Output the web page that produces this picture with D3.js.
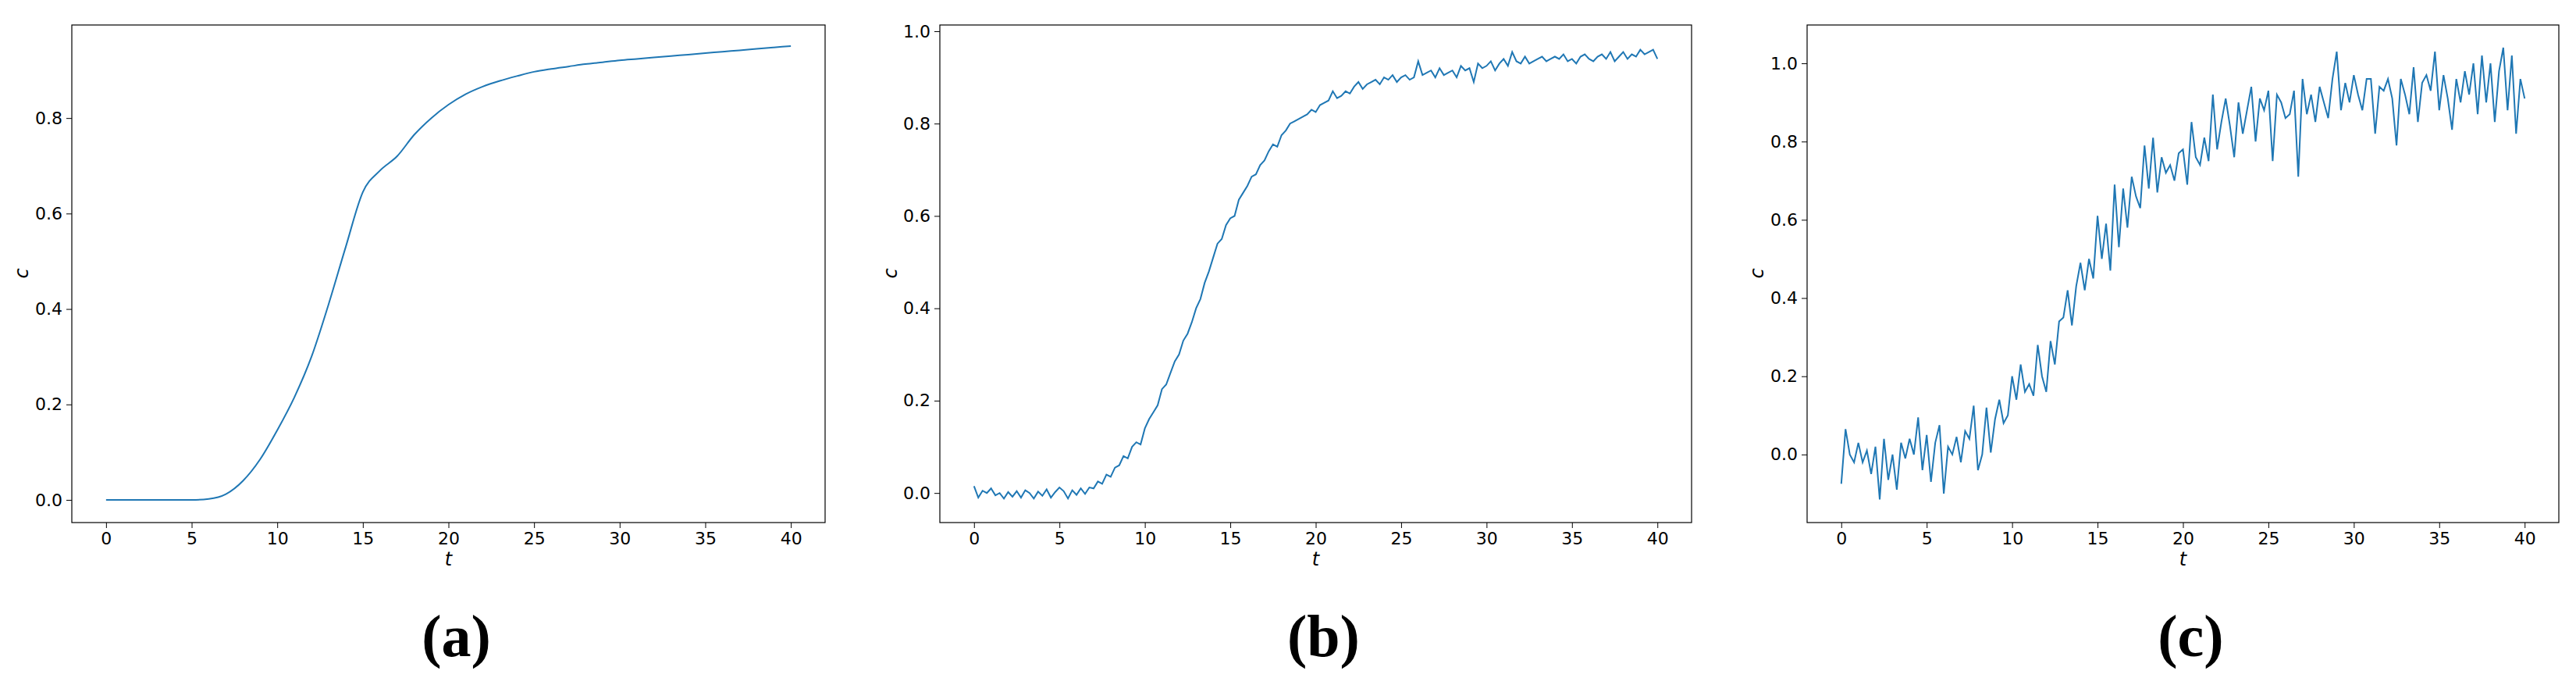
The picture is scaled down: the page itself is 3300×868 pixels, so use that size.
<!DOCTYPE html>
<html><head><meta charset="utf-8">
<script src="https://cdn.jsdelivr.net/npm/d3@7"></script>
<style>body{margin:0;background:#fff}</style></head>
<body><svg id="s" width="3300" height="868"></svg>
<script>
const xTicks=[0,5,10,15,20,25,30,35,40];
const tA=d3.range(0,41,1);
const cA=[0,0,0,0,0,0,0.002,0.012,0.04,0.085,0.146,0.215,0.3,0.41,0.53,0.645,0.69,0.72,0.765,0.8,0.828,0.85,0.866,0.878,0.888,0.897,0.903,0.908,0.913,0.917,0.921,0.924,0.927,0.93,0.933,0.936,0.939,0.942,0.945,0.948,0.951];
const tBC=d3.range(0,161).map(i=>i*0.25);
const cB=[0.015,-0.01,0.005,0.0,0.01,-0.005,0.0,-0.012,0.002,-0.008,0.004,-0.01,0.006,0.0,-0.012,0.003,-0.006,0.008,-0.01,0.002,0.012,0.004,-0.012,0.006,-0.004,0.01,-0.002,0.012,
0.01,0.025,0.02,0.04,0.035,0.055,0.06,0.08,0.075,0.1,0.11,0.105,
0.14,0.16,0.175,0.19,0.225,0.235,0.26,0.285,0.3,0.33,0.345,0.37,
0.4,0.42,0.455,0.48,0.51,0.54,0.55,0.58,0.595,0.6,0.635,0.65,
0.665,0.685,0.69,0.71,0.72,0.74,0.755,0.75,0.775,0.785,0.8,0.805,
0.81,0.815,0.82,0.83,0.825,0.84,0.845,0.85,0.87,0.855,0.86,0.87,
0.865,0.88,0.89,0.875,0.885,0.89,0.895,0.885,0.9,0.895,0.905,0.89,
0.9,0.905,0.895,0.9,0.935,0.905,0.91,0.915,0.9,0.92,0.905,0.91,
0.915,0.9,0.925,0.915,0.92,0.89,0.93,0.92,0.925,0.935,0.915,0.93,
0.94,0.925,0.955,0.935,0.93,0.945,0.93,0.935,0.94,0.945,0.935,0.94,
0.945,0.94,0.95,0.935,0.94,0.93,0.945,0.95,0.94,0.935,0.945,0.95,
0.94,0.955,0.935,0.945,0.955,0.94,0.95,0.945,0.96,0.95,0.955,0.96,0.94];
const cC=[-0.075,0.065,0.0,-0.02,0.03,-0.02,0.01,-0.05,0.02,-0.115,0.04,-0.065,0.0,-0.09,0.03,-0.01,0.04,0.0,0.095,-0.04,0.05,-0.07,0.03,0.075,-0.1,0.02,0.0,0.045,
-0.02,0.06,0.04,0.125,-0.04,0.0,0.12,0.005,0.09,0.14,0.08,0.1,
0.2,0.14,0.23,0.16,0.18,0.15,0.28,0.2,0.16,0.29,0.23,0.34,
0.35,0.42,0.33,0.43,0.49,0.42,0.5,0.45,0.61,0.5,0.59,0.47,
0.69,0.53,0.68,0.58,0.71,0.66,0.63,0.79,0.68,0.81,0.67,0.76,
0.72,0.74,0.7,0.77,0.78,0.69,0.85,0.76,0.74,0.81,0.75,0.92,
0.78,0.85,0.91,0.84,0.76,0.9,0.82,0.88,0.94,0.8,0.91,0.88,
0.93,0.75,0.92,0.9,0.86,0.87,0.93,0.71,0.96,0.87,0.92,0.85,
0.94,0.9,0.86,0.96,1.03,0.88,0.95,0.9,0.97,0.92,0.88,0.96,
0.96,0.82,0.94,0.93,0.96,0.91,0.79,0.96,0.92,0.87,0.99,0.85,
0.95,0.97,0.93,1.03,0.88,0.97,0.91,0.83,0.96,0.9,0.98,0.92,
1.0,0.87,1.02,0.9,1.0,0.85,0.98,1.04,0.88,1.02,0.82,0.96,0.91];
const yTicksA=[0,0.2,0.4,0.6,0.8], yTicksB=[0,0.2,0.4,0.6,0.8,1.0];
const labels=["(a)","(b)","(c)"];

const svg=d3.select("#s");
const panels=[
 {l:92,r:1057,yd:[-0.0475,0.995],t:tA,c:cA,yt:yTicksA,lab:labels[0],curve:d3.curveMonotoneX,ylx:28},
 {l:1204,r:2167,yd:[-0.064,1.0135],t:tBC,c:cB,yt:yTicksB,lab:labels[1],curve:d3.curveLinear,ylx:1141},
 {l:2315,r:3278,yd:[-0.174,1.098],t:tBC,c:cC,yt:yTicksB,lab:labels[2],curve:d3.curveLinear,ylx:2251}];
const plotTop=32,plotBot=669;
panels.forEach(p=>{
 const x=d3.scaleLinear().domain([-2,42]).range([p.l,p.r]);
 const y=d3.scaleLinear().domain(p.yd).range([plotBot,plotTop]);
 const g=svg.append("g");
 g.append("path").datum(p.t.map((t,i)=>[t,p.c[i]]))
  .attr("d",d3.line().x(d=>x(d[0])).y(d=>y(d[1])).curve(p.curve))
  .attr("fill","none").attr("stroke","#1f77b4").attr("stroke-width",2);
 const ax=g.append("g").attr("transform",`translate(0,${plotBot})`)
  .call(d3.axisBottom(x).tickValues(xTicks).tickSize(7).tickPadding(5).tickFormat(d3.format("d")));
 const ay=g.append("g").attr("transform",`translate(${p.l},0)`)
  .call(d3.axisLeft(y).tickValues(p.yt).tickSize(7).tickPadding(5).tickFormat(d3.format(".1f")));
 [ax,ay].forEach(a=>{a.select(".domain").remove();a.selectAll("text").attr("font-family","DejaVu Sans").attr("font-size",22).attr("fill","#000");a.selectAll("line").attr("stroke","#000");});
 g.append("rect").attr("x",p.l).attr("y",plotTop).attr("width",p.r-p.l).attr("height",plotBot-plotTop)
  .attr("fill","none").attr("stroke","#000").attr("stroke-width",1.2);
 g.append("text").attr("x",x(20)).attr("y",724).attr("text-anchor","middle")
  .attr("font-family","DejaVu Sans").attr("font-style","italic").attr("font-size",24).text("t");
 g.append("text").attr("transform",`translate(${p.ylx+8},350) rotate(-90)`).attr("text-anchor","middle")
  .attr("font-family","DejaVu Sans").attr("font-style","italic").attr("font-size",24).text("c");
 g.append("text").attr("x",(p.l+p.r)/2+10).attr("y",840).attr("text-anchor","middle")
  .attr("font-family","Liberation Serif").attr("font-weight","bold").attr("font-size",76).text(p.lab);
});
</script></body></html>
